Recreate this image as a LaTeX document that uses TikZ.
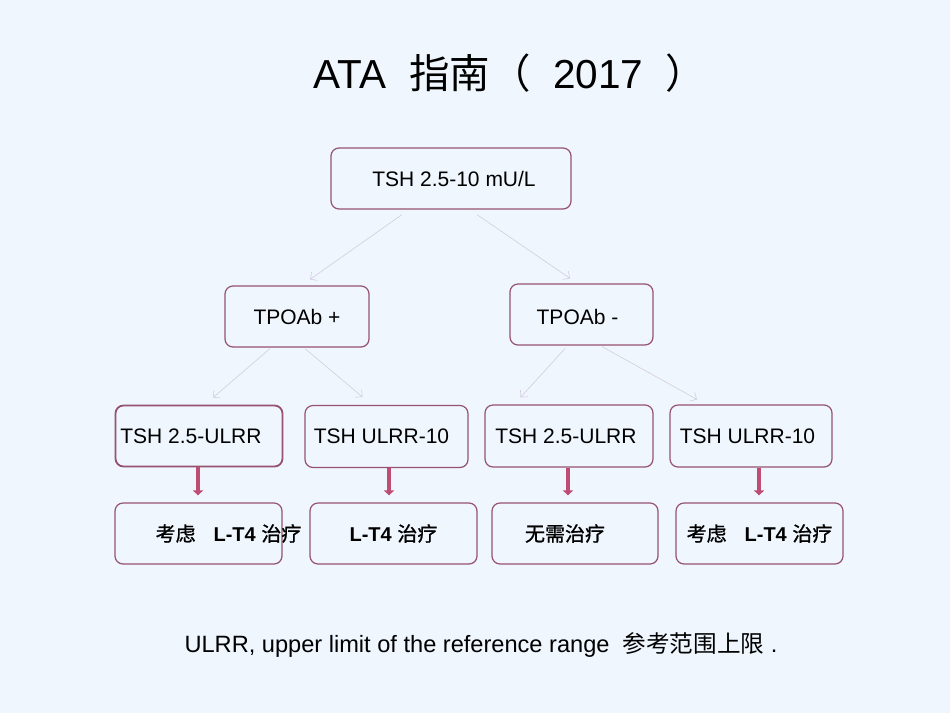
\documentclass[tikz,border=0pt]{standalone}
\usepackage{fontspec}
\setmainfont{Liberation Sans}
\newfontfamily\cjk{Noto Sans CJK SC}
\newfontfamily\cjkb[FakeBold=1]{Noto Sans CJK SC}
\usetikzlibrary{arrows.meta}
\definecolor{bgblue}{RGB}{239,246,254}
\definecolor{boxrose}{RGB}{150,82,112}
\definecolor{thinline}{RGB}{212,204,226}
\definecolor{thickrose}{RGB}{190,76,116}

\begin{document}
\begin{tikzpicture}[x=1pt,y=-1pt,
  box/.style={draw=boxrose,line width=1.2pt,rounded corners=8pt,inner sep=0pt},
  boxtext/.style={font=\fontsize{21}{25}\selectfont},
  thinarrow/.style={draw=thinline,line width=0.6pt,-{Straight Barb[length=5pt,width=10pt]}},
  downarrow/.style={draw=thickrose,line width=3.5pt,-{Triangle[length=5pt,width=10pt]},shorten >=7pt}]
  \fill[bgblue] (0,0) rectangle (950,713);
  \useasboundingbox (0,0) rectangle (950,713);
  % title and footnote
  \node[font=\fontsize{40.5}{48}\selectfont] (title) at (510,73) {ATA\ \ {\cjk 指南（}\ \ 2017\ \ {\cjk ）}};
  \node[font=\fontsize{23.6}{28}\selectfont] (note) at (481,645) {ULRR, upper limit of the reference range\ \ {\cjk 参考范围上限}\ .};
  % boxes
  \node[box,minimum width=240pt,minimum height=61pt,label={[boxtext,name=top-t,xshift=3pt]center:TSH 2.5-10 mU/L}] (top) at (451,178.5) {};
  \node[box,minimum width=144pt,minimum height=61pt,label={[boxtext,name=tpos-t]center:TPOAb +}] (tpos) at (297,316.5) {};
  \node[box,minimum width=143pt,minimum height=61pt,label={[boxtext,name=tneg-t,xshift=-4pt,yshift=-2pt]center:TPOAb -}] (tneg) at (581.5,314.5) {};
  \node[box,line width=1.8pt,minimum width=167pt,minimum height=61pt,label={[boxtext,name=r3a-t,xshift=-8pt]center:TSH 2.5-ULRR}] (r3a) at (199,436) {};
  \node[box,minimum width=163pt,minimum height=62pt,label={[boxtext,name=r3b-t,xshift=-5pt]center:TSH ULRR-10}] (r3b) at (386.5,436.5) {};
  \node[box,minimum width=168pt,minimum height=62pt,label={[boxtext,name=r3c-t,xshift=-3pt]center:TSH 2.5-ULRR}] (r3c) at (569,436) {};
  \node[box,minimum width=162pt,minimum height=62pt,label={[boxtext,name=r3d-t,xshift=-3.5pt]center:TSH ULRR-10}] (r3d) at (751,436) {};
  \node[box,minimum width=167pt,minimum height=61pt,label={[boxtext,font=\fontsize{20}{24}\selectfont,name=r4a-t,xshift=30pt]center:{{\cjkb 考虑}\hspace{0.9em}\textbf{L-T4} {\cjkb 治疗}}}] (r4a) at (198.5,533.5) {};
  \node[box,minimum width=167pt,minimum height=61pt,label={[boxtext,font=\fontsize{20}{24}\selectfont,name=r4b-t]center:{\textbf{L-T4} {\cjkb 治疗}}}] (r4b) at (393.5,533.5) {};
  \node[box,minimum width=166pt,minimum height=61pt,label={[boxtext,font=\fontsize{20}{24}\selectfont,name=r4c-t,xshift=-10pt]center:{\cjkb 无需治疗}}] (r4c) at (575,533.5) {};
  \node[box,minimum width=167pt,minimum height=61pt,label={[boxtext,font=\fontsize{20}{24}\selectfont,name=r4d-t]center:{{\cjkb 考虑}\hspace{0.9em}\textbf{L-T4} {\cjkb 治疗}}}] (r4d) at (759.5,533.5) {};
  % thin arrows
  \draw[thinarrow] ([xshift=-49pt,yshift=-5pt]top.south) -- ([xshift=13pt,yshift=6pt]tpos.north);
  \draw[thinarrow] ([xshift=26pt,yshift=-5pt]top.south) -- ([xshift=-11.5pt,yshift=5pt]tneg.north);
  \draw[thinarrow] ([xshift=-27pt,yshift=-1pt]tpos.south) -- ([xshift=14pt,yshift=7pt]r3a.north);
  \draw[thinarrow] ([xshift=8pt,yshift=-1pt]tpos.south) -- ([xshift=-24pt,yshift=8pt]r3b.north);
  \draw[thinarrow] ([xshift=-16.5pt,yshift=-3pt]tneg.south) -- ([xshift=-48.5pt,yshift=7pt]r3c.north);
  \draw[thinarrow] ([xshift=20.5pt,yshift=-1pt]tneg.south) -- ([xshift=-54pt,yshift=5pt]r3d.north);
  % thick arrows
  \foreach \a/\b/\dx in {r3a/r4a/-1,r3b/r4b/2.5,r3c/r4c/-1,r3d/r4d/8} {
    \coordinate (s) at ([xshift=\dx pt]\a.south);
    \draw[downarrow] (s) -- (s |- \b.north);
  }
\end{tikzpicture}
\end{document}
